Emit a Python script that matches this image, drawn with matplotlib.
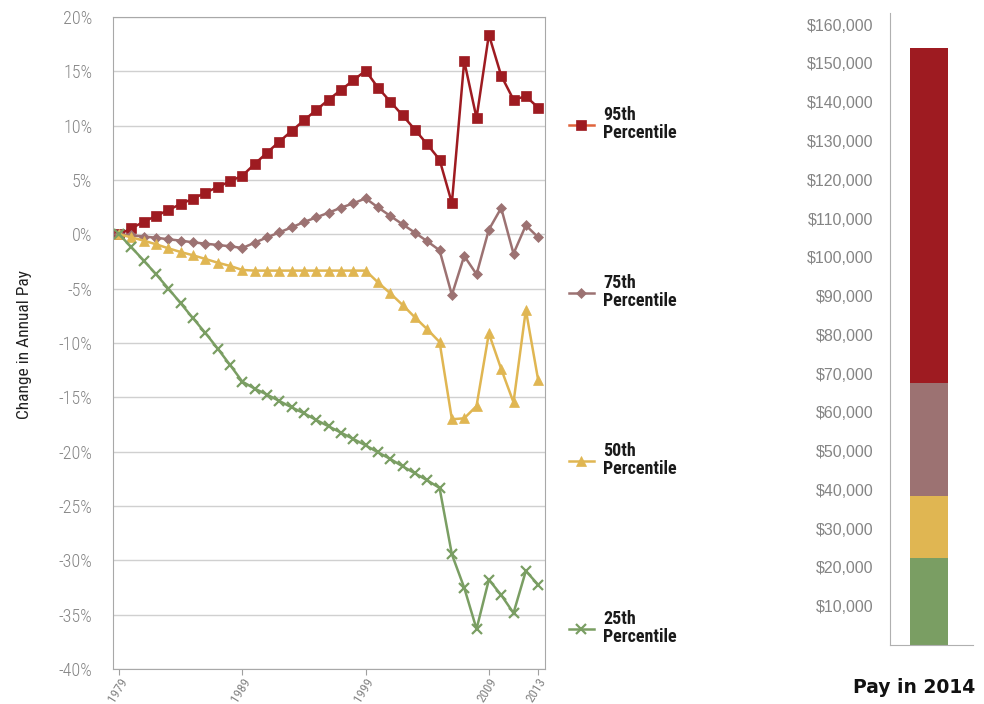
import matplotlib.pyplot as plt
from matplotlib import font_manager
from matplotlib.ticker import FuncFormatter, FixedLocator

years = list(range(1979, 2014))
p95 = [0.0, 0.55, 1.16, 1.69, 2.24, 2.79, 3.28, 3.83, 4.35, 4.88, 5.40, 6.47, 7.51, 8.53, 9.51,
       10.49, 11.44, 12.39, 13.28, 14.17, 15.06, 13.50, 12.21, 10.95, 9.63, 8.28, 6.87, 2.88,
       15.95, 10.70, 18.37, 14.60, 12.39, 12.70, 11.66]
p75 = [0.0, -0.09, -0.21, -0.31, -0.46, -0.58, -0.74, -0.86, -0.98, -1.10, -1.26, -0.77, -0.28,
       0.18, 0.64, 1.13, 1.56, 1.99, 2.45, 2.85, 3.31, 2.48, 1.69, 0.92, 0.15, -0.64, -1.47,
       -5.58, -1.99, -3.68, 0.43, 2.42, -1.78, 0.83, -0.28]
p50 = [0.0, -0.28, -0.58, -0.92, -1.29, -1.63, -1.93, -2.27, -2.61, -2.91, -3.28, -3.34, -3.34,
       -3.34, -3.34, -3.34, -3.34, -3.34, -3.34, -3.34, -3.34, -4.42, -5.43, -6.50, -7.64,
       -8.74, -9.91, -17.02, -16.93, -15.80, -9.11, -12.39, -15.46, -6.96, -13.40]
p25 = [0.0, -1.20, -2.42, -3.68, -5.00, -6.35, -7.73, -9.08, -10.52, -12.02, -13.56, -14.20,
       -14.75, -15.34, -15.92, -16.47, -17.09, -17.67, -18.25, -18.83, -19.42, -20.06, -20.67,
       -21.35, -21.99, -22.64, -23.34, -29.45, -32.52, -36.32, -31.78, -33.19, -34.85, -30.98,
       -32.24]
tick_years = [1979, 1989, 1999, 2009, 2013]

# pay in 2014 by percentile
pay_labels = ["25th", "50th", "75th", "95th"]
pay_2014 = [22400, 38400, 67500, 154000]

red = "#9e1b21"
mauve = "#9c7272"
yellow = "#e0b652"
green = "#7a9e63"
grey = "#858585"

# look for a narrow font, the original uses a condensed face
names = {f.name for f in font_manager.fontManager.ttflist}
narrow = None
for cand in ["Roboto Condensed", "Liberation Sans Narrow", "Open Sans Condensed",
             "Noto Sans Condensed", "DejaVu Sans Condensed"]:
    if cand in names:
        narrow = cand
        break
if narrow is None:
    narrow = "DejaVu Sans"
    if any(f.name == "DejaVu Sans" and f.stretch == "condensed"
           for f in font_manager.fontManager.ttflist):
        plt.rcParams['font.stretch'] = 'condensed'
plt.rcParams['font.family'] = [narrow, 'DejaVu Sans']

fig = plt.figure(figsize=(9.84, 7.04), dpi=100)
ax = fig.add_axes([0.1148, 0.0497, 0.4390, 0.9262])

series = [("95th\nPercentile", p95, red, "s", 6.5),
          ("75th\nPercentile", p75, mauve, "D", 5),
          ("50th\nPercentile", p50, yellow, "^", 7),
          ("25th\nPercentile", p25, green, "x", 6.5)]
for label, vals, c, m, ms in series:
    ax.plot(years, vals, color=c, marker=m, markersize=ms, linewidth=1.8,
            markerfacecolor=c, markeredgecolor=c,
            markeredgewidth=1.6 if m == "x" else 0.5, label=label, clip_on=False)

ax.set_xlim(1978.5, 2013.55)
ax.set_ylim(-40, 20)
ax.set_yticks(range(-40, 21, 5))
ax.yaxis.set_major_formatter(FuncFormatter(lambda v, p: f"{int(v)}%"))
ax.xaxis.set_major_locator(FixedLocator(tick_years))
ax.set_xticklabels([str(y) for y in tick_years], rotation=58, ha="right",
                   rotation_mode="anchor")
ax.tick_params(axis="y", length=0, labelsize=13, labelcolor=grey, pad=15)
ax.tick_params(axis="x", length=4, color="#a0a0a0", labelsize=9.5, labelcolor=grey, pad=1)
for t in ax.get_yticklabels():
    t.set_fontweight("light")
ax.grid(axis="y", color="#d0d0d0", linewidth=1)
ax.set_axisbelow(True)
for s in ax.spines.values():
    s.set_color("#a8a8a8")
ax.set_ylabel("Change in Annual Pay", fontsize=12.5, color="#222222")
ax.yaxis.set_label_coords(-0.188, 0.497)

leg = ax.legend(loc="upper left", bbox_to_anchor=(1.038, 0.875), frameon=False,
                fontsize=13, labelspacing=7.27, handlelength=1.4, handletextpad=0.5,
                borderaxespad=0)
# put the key next to the first line of each label
for row in leg._legend_handle_box.get_children():
    row.align = "top"
for t in leg.get_texts():
    t.set_color("#1a1a1a")
    t.set_fontweight("bold")
    t.set_linespacing(1.05)
leg.legend_handles[0].set_color("#e0643c")

# stacked bar of pay
bx = fig.add_axes([0.9045, 0.0838, 0.0843, 0.8977])
bottom = 0
bar_colors = [green, yellow, mauve, red]
for lab, v, c in zip(pay_labels, pay_2014, bar_colors):
    bx.bar(0, v - bottom, bottom=bottom, width=0.46, color=c)
    bottom = v
bx.set_xlim(-0.47, 0.53)
bx.set_ylim(0, 163000)
bx.set_yticks(range(10000, 160001, 10000))
bx.yaxis.set_major_formatter(FuncFormatter(lambda v, p: f"${int(v):,}"))
bx.set_xticks([])
bx.tick_params(axis="y", length=0, labelsize=11.5, labelcolor=grey, pad=12)
for t in bx.get_yticklabels():
    t.set_family(["Liberation Sans", "DejaVu Sans"])
    t.set_stretch("normal")
bx.spines["top"].set_visible(False)
bx.spines["right"].set_visible(False)
bx.spines["left"].set_color("#b0b0b0")
bx.spines["bottom"].set_color("#b0b0b0")
bx.set_xlabel("Pay in 2014", fontsize=13.5, fontweight="bold", color="#111111",
              family="DejaVu Sans", stretch="normal")
bx.xaxis.set_label_coords(0.29, -0.053)

fig.savefig("out.png", dpi=100)
